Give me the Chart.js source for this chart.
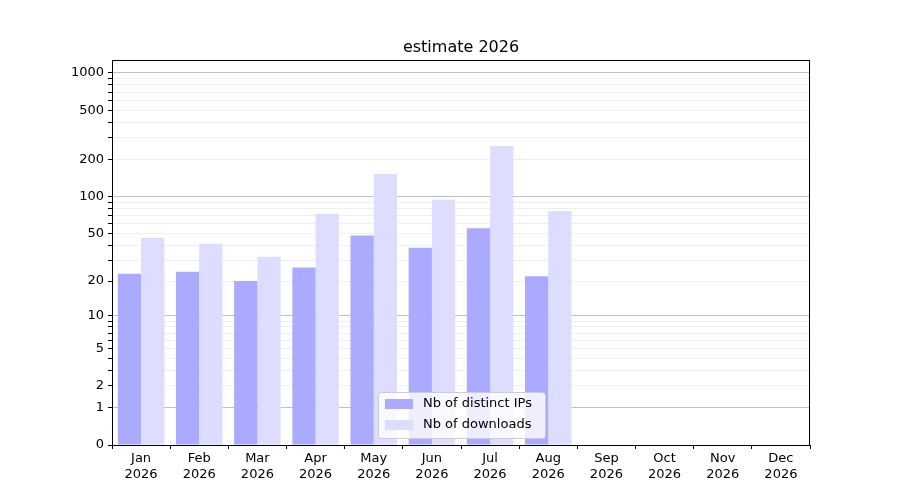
<!DOCTYPE html>
<html><head><meta charset="utf-8">
<script src="https://cdn.jsdelivr.net/npm/chart.js@4"></script>
<style>html,body{margin:0;background:#fff}#w{width:900px;height:500px}</style>
</head><body><div id="w"><canvas id="c"></canvas></div>
<script>
const months = ['Jan','Feb','Mar','Apr','May','Jun','Jul','Aug','Sep','Oct','Nov','Dec'];
const year = '2026';
const distinctIPs = [23,24,20,26,48,38,55,22,null,null,null,null];
const downloads = [46,41,32,72,152,94,257,76,null,null,null,null];
const labeledTicks = [0,1,2,5,10,20,50,100,200,500,1000];
const majorTicks = [1,10,100,1000];
const allTicks = [0,1,2,3,4,5,6,7,8,9,10,20,30,40,50,60,70,80,90,100,200,300,400,500,600,700,800,900,1000];
const tf = v => v==null?null:Math.log10(1+v);
const font = {family:'DejaVu Sans', size:13};
Chart.defaults.font = font; Chart.defaults.color='#000';
const legendItems = [['Nb of distinct IPs','#aaaaff'],['Nb of downloads','#ddddff']];
const deco = {id:'deco', afterDraw(ch){
  const c=ch.ctx, a=ch.chartArea;
  c.save();
  c.strokeStyle='#000'; c.lineWidth=1;
  c.strokeRect(a.left+0.5,a.top+0.5,a.right-a.left-1,a.bottom-a.top);
  c.font='16px DejaVu Sans'; c.textAlign='center'; c.textBaseline='alphabetic';
  c.fillStyle='#000'; c.fillText('estimate '+year,(a.left+a.right)/2,52);
  // legend
  const lx=378, ly=392, lw=167, lh=46;
  c.fillStyle='rgba(255,255,255,0.8)'; c.strokeStyle='#ccc';
  c.beginPath(); c.roundRect(lx+0.5,ly+0.5,lw,lh,3); c.fill(); c.stroke();
  c.font='13px DejaVu Sans'; c.textAlign='left'; c.textBaseline='middle';
  legendItems.forEach((it,i)=>{
    const y=ly+12+i*21;
    c.fillStyle=it[1]; c.fillRect(lx+7,y-5,28,10);
    c.fillStyle='#000'; c.fillText(it[0],lx+45,y);
  });
  c.restore();
}};
new Chart(document.getElementById('c'),{
  type:'bar',
  data:{labels:months.map(m=>[m,year]), datasets:[
    {label:'Nb of distinct IPs', data:distinctIPs.map(tf), backgroundColor:'#aaaaff'},
    {label:'Nb of downloads', data:downloads.map(tf), backgroundColor:'#ddddff'}
  ]},
  plugins:[deco],
  options:{responsive:true, maintainAspectRatio:false, animation:false,
    devicePixelRatio:1,
    layout:{padding:{top:60,right:90,left:0,bottom:0}},
    plugins:{legend:{display:false}, title:{display:false}, tooltip:{enabled:false}},
    datasets:{bar:{categoryPercentage:0.8, barPercentage:1}},
    scales:{
      x:{grid:{display:true, drawOnChartArea:false, tickLength:4, color:'#000'}, border:{display:false},
        ticks:{font, color:'#000', maxRotation:0, padding:2},
        afterFit(s){s.height=55;}},
      y:{min:0, max:3.105, border:{display:false},
        afterBuildTicks(s){s.ticks=allTicks.map(v=>({value:tf(v)}));},
        ticks:{font, color:'#000', autoSkip:false, padding:4,
          callback:(v,i)=>labeledTicks.includes(allTicks[i])?String(allTicks[i]):''},
        grid:{tickLength:4,
          color:ctx=>{const t=allTicks[ctx.index]; if(t===0) return 'rgba(0,0,0,0)'; return majorTicks.includes(t)?'#c0c0c0':'#efefef';},
          tickColor:'#000'},
        afterFit(s){s.width=112;}}
    }}
});
</script></body></html>
